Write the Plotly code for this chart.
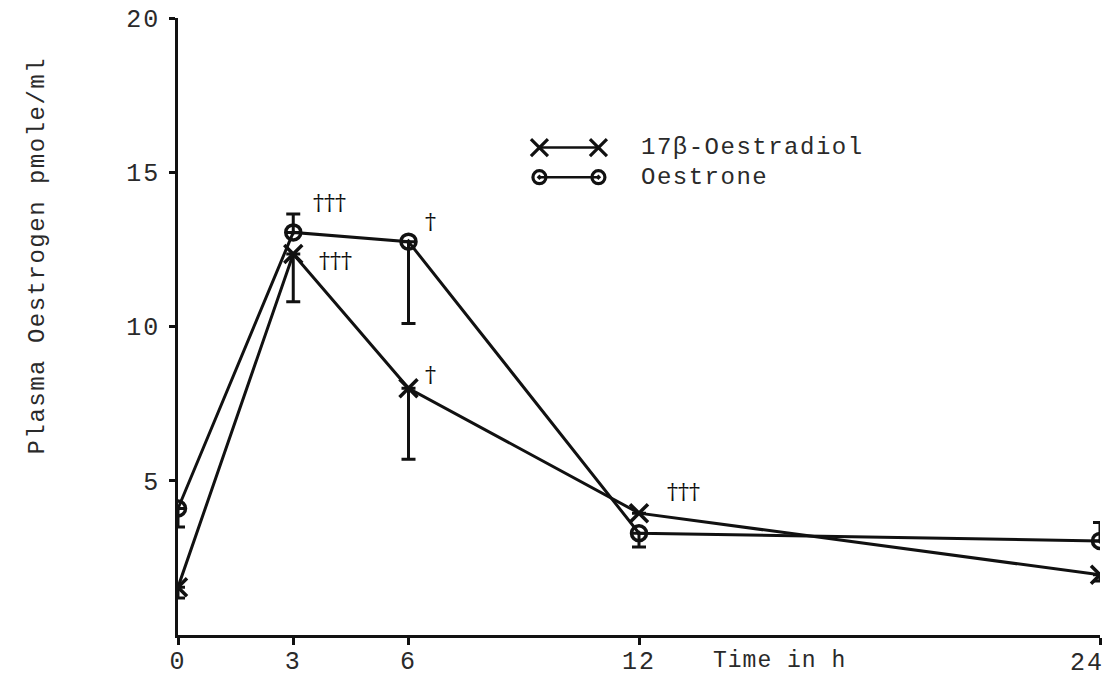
import plotly.graph_objects as go

# ---- data ----
times = [0, 3, 6, 12, 24]
tick_labels = ["0", "3", "6", "12", "24"]

oestradiol = [1.55, 12.35, 8.0, 3.95, 1.95]
oestradiol_err_plus = [0, 0, 0, 0, 0]
oestradiol_err_minus = [0.35, 1.55, 2.3, 0.0, 0.2]

oestrone = [4.1, 13.05, 12.75, 3.3, 3.05]
oestrone_err_plus = [0, 0.6, 0, 0, 0.6]
oestrone_err_minus = [0.6, 0, 2.65, 0.45, 0]

y_ticks = [5, 10, 15, 20]
y_tick_labels = ["5", "10", "15", "20"]

# significance marks: (series, time index, text, xshift, yshift)
sig_marks = [
    ("oestrone", 1, "†††", 36, 30),
    ("oestradiol", 1, "†††", 42, -6),
    ("oestrone", 2, "†", 22, 20),
    ("oestradiol", 2, "†", 22, 14),
    ("oestradiol", 3, "†††", 44, 22),
]

FONT = "Liberation Mono, Courier New, monospace"
INK = "#111111"
TXT = "#2a2a2a"


def spaced(t, px):
    return f'<span style="letter-spacing:{px}px">{t}</span>'


fig = go.Figure()

fig.add_trace(go.Scatter(
    x=times, y=oestradiol, mode="lines+markers", name="17β-Oestradiol",
    line=dict(color=INK, width=3),
    marker=dict(symbol="x-thin", size=18, line=dict(color=INK, width=3.5), color=INK),
    error_y=dict(type="data", symmetric=False, array=oestradiol_err_plus,
                 arrayminus=oestradiol_err_minus, color=INK, thickness=3, width=7),
    showlegend=False,
))
fig.add_trace(go.Scatter(
    x=times, y=oestrone, mode="lines+markers", name="Oestrone",
    line=dict(color=INK, width=3),
    marker=dict(symbol="circle-open-dot", size=15, line=dict(color=INK, width=3.5), color=INK),
    error_y=dict(type="data", symmetric=False, array=oestrone_err_plus,
                 arrayminus=oestrone_err_minus, color=INK, thickness=3, width=7),
    showlegend=False,
))

series = {"oestradiol": oestradiol, "oestrone": oestrone}
for s, i, txt, dx, dy in sig_marks:
    fig.add_annotation(x=times[i], y=series[s][i], text=txt, showarrow=False,
                       xshift=dx, yshift=dy,
                       font=dict(family="DejaVu Serif, serif", size=22, color=INK))

# ---- hand-style legend keys (layout positions in an overlay frame) ----
legend_rows = [("17β-Oestradiol", "x-thin", 17, 0.79), ("Oestrone", "circle-open-dot", 13, 0.742)]
for label, sym, sz, yy in legend_rows:
    fig.add_trace(go.Scatter(
        x=[0.392, 0.456], y=[yy, yy], xaxis="x2", yaxis="y2", mode="lines+markers",
        line=dict(color=INK, width=2.5),
        marker=dict(symbol=sym, size=sz, line=dict(color=INK, width=3.2), color=INK),
        showlegend=False, hoverinfo="skip"))
    fig.add_annotation(x=0.5, y=yy, xref="x2", yref="y2", text=spaced(label, 1.5),
                       showarrow=False, xanchor="left",
                       font=dict(family=FONT, size=24, color=TXT))

fig.add_annotation(x=0.578, y=-0.042, xref="paper", yref="paper",
                   text=spaced("Time in h", 1), showarrow=False,
                   xanchor="left", yanchor="middle",
                   font=dict(family=FONT, size=23, color=TXT))

# last x tick label placed inside the page edge, just below the axis end
fig.add_annotation(x=times[-1], y=0, xref="x", yref="y", text=spaced(tick_labels[-1], 2),
                   showarrow=False, xanchor="right", yanchor="top",
                   xshift=6, yshift=-12,
                   font=dict(family=FONT, size=25, color=TXT))

fig.add_annotation(x=-0.152, y=0.615, xref="paper", yref="paper",
                   text=spaced("Plasma Oestrogen pmole/ml", 1.5), textangle=-90,
                   showarrow=False, xanchor="center", yanchor="middle",
                   font=dict(family=FONT, size=24, color=TXT))

fig.update_layout(
    width=1111, height=698,
    margin=dict(l=178, r=11, t=18, b=63, autoexpand=False),
    paper_bgcolor="white", plot_bgcolor="white",
    font=dict(family=FONT, color=TXT),
    xaxis=dict(range=[0, 24], tickvals=times,
               ticktext=[spaced(t, 2) for t in tick_labels[:-1]] + [""],
               showline=True, linecolor=INK, linewidth=2.5, ticks="outside",
               ticklen=7, tickwidth=2.5, tickcolor=INK, showgrid=False, zeroline=False,
               ticklabelstandoff=-6, automargin=False,
               tickfont=dict(family=FONT, size=25, color=TXT)),
    yaxis=dict(range=[0, 20], tickvals=y_ticks,
               ticktext=[spaced(t, 2) for t in y_tick_labels],
               showline=True, linecolor=INK, linewidth=2.5, ticks="outside",
               ticklen=6, tickwidth=2.5, tickcolor=INK, showgrid=False, zeroline=False,
               ticklabelstandoff=4, automargin=False,
               tickfont=dict(family=FONT, size=25, color=TXT)),
    xaxis2=dict(range=[0, 1], overlaying="x", visible=False, anchor="y2"),
    yaxis2=dict(range=[0, 1], overlaying="y", visible=False, anchor="x2"),
)

fig.write_html("out.html")
